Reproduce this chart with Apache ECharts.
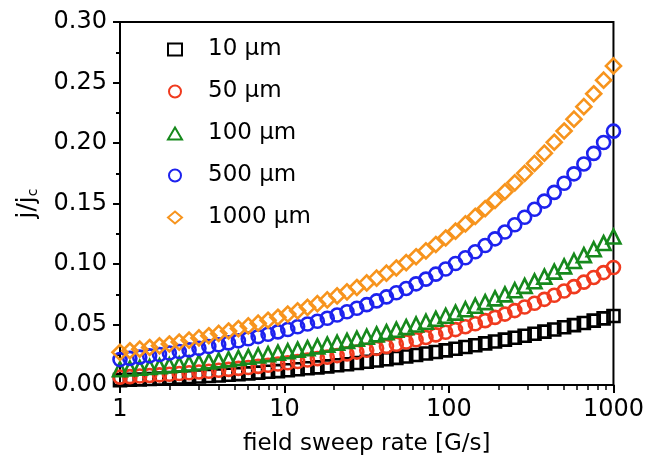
<!DOCTYPE html>
<html><head><meta charset="utf-8">
<script src="https://cdn.jsdelivr.net/npm/echarts@6/dist/echarts.min.js"></script>
<style>html,body{margin:0;padding:0;background:#fff}#c{width:647px;height:470px}</style>
</head><body><div id="c"></div>
<script>
const seriesNames = ['10 \u03bcm', '50 \u03bcm', '100 \u03bcm', '500 \u03bcm', '1000 \u03bcm'];
const rate = [1, 1.148, 1.318, 1.514, 1.738, 1.995, 2.291, 2.63, 3.02, 3.467, 3.981, 4.571, 5.248, 6.026, 6.918, 7.943, 9.12, 10.47, 12.02, 13.8, 15.85, 18.2, 20.89, 23.99, 27.54, 31.62, 36.31, 41.69, 47.86, 54.95, 63.1, 72.44, 83.18, 95.5, 109.6, 125.9, 144.5, 166, 190.5, 218.8, 251.2, 288.4, 331.1, 380.2, 436.5, 501.2, 575.4, 660.7, 758.6, 871, 1000];
const j10 = [0.0040,0.0043,0.0046,0.0050,0.0053,0.0057,0.0061,0.0065,0.0070,0.0074,0.0079,0.0085,0.0090,0.0096,0.0102,0.0109,0.0115,0.0122,0.0130,0.0138,0.0146,0.0154,0.0163,0.0172,0.0182,0.0192,0.0202,0.0213,0.0224,0.0236,0.0248,0.0260,0.0273,0.0286,0.0300,0.0314,0.0329,0.0344,0.0359,0.0375,0.0391,0.0407,0.0424,0.0441,0.0459,0.0477,0.0495,0.0513,0.0532,0.0551,0.0570];
const j50 = [0.0065,0.0069,0.0074,0.0079,0.0084,0.0089,0.0095,0.0101,0.0108,0.0114,0.0122,0.0129,0.0137,0.0145,0.0154,0.0163,0.0173,0.0184,0.0194,0.0206,0.0218,0.0230,0.0243,0.0257,0.0272,0.0287,0.0303,0.0319,0.0337,0.0355,0.0374,0.0393,0.0414,0.0436,0.0458,0.0482,0.0506,0.0532,0.0559,0.0586,0.0615,0.0645,0.0676,0.0708,0.0742,0.0777,0.0813,0.0850,0.0889,0.0929,0.0971];
const j100 = [0.0130,0.0136,0.0142,0.0149,0.0156,0.0163,0.0170,0.0178,0.0186,0.0195,0.0204,0.0213,0.0223,0.0233,0.0244,0.0255,0.0267,0.0279,0.0292,0.0305,0.0319,0.0334,0.0349,0.0365,0.0382,0.0399,0.0418,0.0437,0.0457,0.0478,0.0500,0.0523,0.0547,0.0572,0.0598,0.0626,0.0655,0.0685,0.0716,0.0749,0.0783,0.0819,0.0857,0.0896,0.0937,0.0980,0.1025,0.1073,0.1122,0.1173,0.1227];
const j500 = [0.0210,0.0220,0.0230,0.0241,0.0252,0.0264,0.0277,0.0290,0.0303,0.0318,0.0333,0.0348,0.0365,0.0382,0.0400,0.0419,0.0439,0.0459,0.0481,0.0504,0.0527,0.0552,0.0578,0.0605,0.0634,0.0664,0.0695,0.0728,0.0762,0.0798,0.0836,0.0875,0.0916,0.0959,0.1004,0.1052,0.1101,0.1153,0.1208,0.1264,0.1324,0.1386,0.1452,0.1520,0.1592,0.1667,0.1745,0.1827,0.1914,0.2004,0.2098];
const j1000 = [0.0270,0.0283,0.0296,0.0310,0.0324,0.0339,0.0355,0.0371,0.0389,0.0407,0.0426,0.0446,0.0466,0.0488,0.0511,0.0535,0.0560,0.0586,0.0613,0.0642,0.0672,0.0703,0.0736,0.0770,0.0806,0.0844,0.0883,0.0924,0.0967,0.1012,0.1060,0.1109,0.1161,0.1215,0.1271,0.1331,0.1393,0.1458,0.1526,0.1597,0.1671,0.1749,0.1831,0.1916,0.2006,0.2099,0.2197,0.2300,0.2407,0.2519,0.2637];
const xTickLabels = [1, 10, 100, 1000];

const allY = [j10, j50, j100, j500, j1000];
const colors = ['#000000', '#f03a1e', '#16891c', '#1d22ee', '#f7941d'];
const symbols = ['rect', 'circle', 'triangle', 'circle', 'diamond'];
const sizes = [12, 13, 14, 13, 15];

const chart = echarts.init(document.getElementById('c'), null, {renderer: 'canvas'});
const fontTick = 'DejaVu Sans';
const fontName = 'DejaVu Sans';

const series = seriesNames.map((n, k) => ({
  name: n,
  type: 'scatter',
  symbol: symbols[k],
  symbolSize: sizes[k],
  clip: false,
  itemStyle: {color: 'rgba(255,255,255,0)', borderColor: colors[k], borderWidth: 2.6, opacity: 1},
  emphasis: {disabled: true},
  data: rate.map((x, i) => [x, allY[k][i]])
}));

chart.setOption({
  animation: false,
  backgroundColor: '#fff',
  grid: {left: 120, right: 30, top: 22, bottom: 85, show: true, borderColor: '#000', borderWidth: 2, backgroundColor: 'transparent'},
  legend: {
    orient: 'vertical', left: 162, top: 33, itemWidth: 14, itemHeight: 12, itemGap: 19,
    data: seriesNames.map((n, k) => ({name: n, icon: symbols[k], itemStyle: {color: 'rgba(255,255,255,0)', borderColor: colors[k], borderWidth: 2, opacity: 1}})),
    textStyle: {fontFamily: fontName, fontSize: 23, color: '#000', padding: [0, 0, 0, 21]}
  },
  xAxis: {
    type: 'log', logBase: 10, min: 1, max: 1000,
    name: 'field sweep rate [G/s]', nameLocation: 'middle', nameGap: 48,
    nameTextStyle: {fontFamily: fontName, fontSize: 23, color: '#000'},
    axisLine: {lineStyle: {color: '#000', width: 2}},
    axisTick: {show: true, inside: false, length: 8, lineStyle: {color: '#000', width: 2}},
    minorTick: {show: true, splitNumber: 9, length: 5, lineStyle: {color: '#000', width: 1.5}},
    axisLabel: {fontFamily: fontTick, fontSize: 24, color: '#000', margin: 13, formatter: v => String(Math.round(v))},
    splitLine: {show: false}
  },
  yAxis: {
    type: 'value', min: 0, max: 0.3, interval: 0.05,
    name: 'j/j{sub|c}', nameLocation: 'middle', nameGap: 80, nameRotate: 90,
    nameTextStyle: {fontFamily: fontName, fontSize: 25, color: '#000', rich: {sub: {fontFamily: fontName, fontSize: 14, verticalAlign: 'bottom', padding: [10, 0, 0, 0]}}},
    axisLine: {show: true, lineStyle: {color: '#000', width: 2}},
    axisTick: {show: true, length: 7, lineStyle: {color: '#000', width: 2}},
    minorTick: {show: true, splitNumber: 2, length: 4, lineStyle: {color: '#000', width: 2}},
    axisLabel: {fontFamily: fontTick, fontSize: 24, color: '#000', margin: 13, formatter: v => v.toFixed(2)},
    splitLine: {show: false}
  },
  series: series
});
</script></body></html>
